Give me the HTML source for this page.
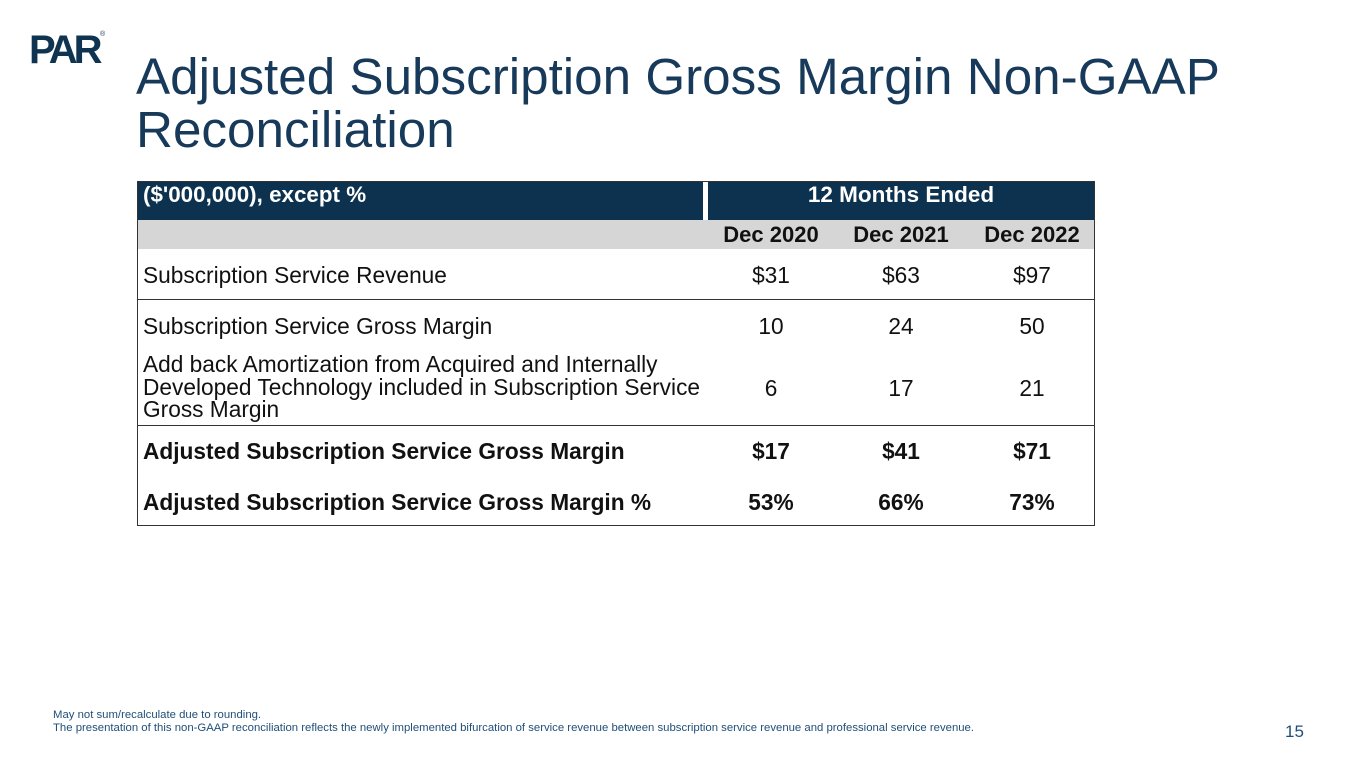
<!DOCTYPE html>
<html><head><meta charset="utf-8"><style>
body{margin:0;width:1365px;height:768px;background:#fff;position:relative;overflow:hidden;font-family:"Liberation Sans",Arial,sans-serif}
.a{position:absolute;white-space:nowrap}
.t{font-size:22.7px;color:#111}
.b{font-weight:bold}
.n{width:100px;text-align:center}
</style></head><body>
<div class="a" style="left:29px;top:28px;font-size:40px;font-weight:900;color:#0f3452;letter-spacing:-4px;">PAR</div>
<div class="a" style="left:100px;top:31px;font-size:7px;color:#0f3452">®</div>
<div class="a" style="left:136px;top:50px;font-size:51.2px;line-height:53px;color:#17395a">Adjusted Subscription Gross Margin Non-GAAP<br>Reconciliation</div>

<div style="position:absolute;left:137px;top:181px;width:958px;height:345px;border:1px solid #333;box-sizing:border-box">
 <div class="a" style="left:0;top:0;width:956px;height:38px;background:#0d3250"></div>
 <div class="a" style="left:565px;top:0;width:5px;height:38px;background:#fff"></div>
 <div class="a b" style="left:5px;top:0px;font-size:22.4px;color:#fff">($'000,000), except %</div>
 <div class="a b" style="left:563px;top:0px;width:400px;text-align:center;font-size:22.5px;color:#fff">12 Months Ended</div>
 <div class="a" style="left:0;top:38px;width:956px;height:29px;background:#d6d6d6"></div>
 <div class="a b n" style="left:583px;top:40px;font-size:22px;color:#111">Dec 2020</div>
 <div class="a b n" style="left:713px;top:40px;font-size:22px;color:#111">Dec 2021</div>
 <div class="a b n" style="left:844px;top:40px;font-size:22px;color:#111">Dec 2022</div>

 <div class="a t" style="left:5px;top:80px">Subscription Service Revenue</div>
 <div class="a t n" style="left:583px;top:80px">$31</div>
 <div class="a t n" style="left:713px;top:80px">$63</div>
 <div class="a t n" style="left:844px;top:80px">$97</div>
 <div class="a" style="left:0;top:117px;width:956px;height:1px;background:#333"></div>

 <div class="a t" style="left:5px;top:131px">Subscription Service Gross Margin</div>
 <div class="a t n" style="left:583px;top:131px">10</div>
 <div class="a t n" style="left:713px;top:131px">24</div>
 <div class="a t n" style="left:844px;top:131px">50</div>

 <div class="a t" style="left:5px;top:171px;line-height:22.5px">Add back Amortization from Acquired and Internally<br>Developed Technology included in Subscription Service<br>Gross Margin</div>
 <div class="a t n" style="left:583px;top:193px">6</div>
 <div class="a t n" style="left:713px;top:193px">17</div>
 <div class="a t n" style="left:844px;top:193px">21</div>
 <div class="a" style="left:0;top:243px;width:956px;height:1px;background:#333"></div>

 <div class="a t b" style="left:5px;top:256px">Adjusted Subscription Service Gross Margin</div>
 <div class="a t b n" style="left:583px;top:256px">$17</div>
 <div class="a t b n" style="left:713px;top:256px">$41</div>
 <div class="a t b n" style="left:844px;top:256px">$71</div>

 <div class="a t b" style="left:5px;top:307px">Adjusted Subscription Service Gross Margin %</div>
 <div class="a t b n" style="left:583px;top:307px">53%</div>
 <div class="a t b n" style="left:713px;top:307px">66%</div>
 <div class="a t b n" style="left:844px;top:307px">73%</div>
</div>

<div class="a" style="left:53px;top:709px;font-size:11.35px;line-height:13px;color:#1f4e79">May not sum/recalculate due to rounding.<br>The presentation of this non-GAAP reconciliation reflects the newly implemented bifurcation of service revenue between subscription service revenue and professional service revenue.</div>
<div class="a" style="left:1285px;top:722px;font-size:17px;color:#1f4e79">15</div>
</body></html>
